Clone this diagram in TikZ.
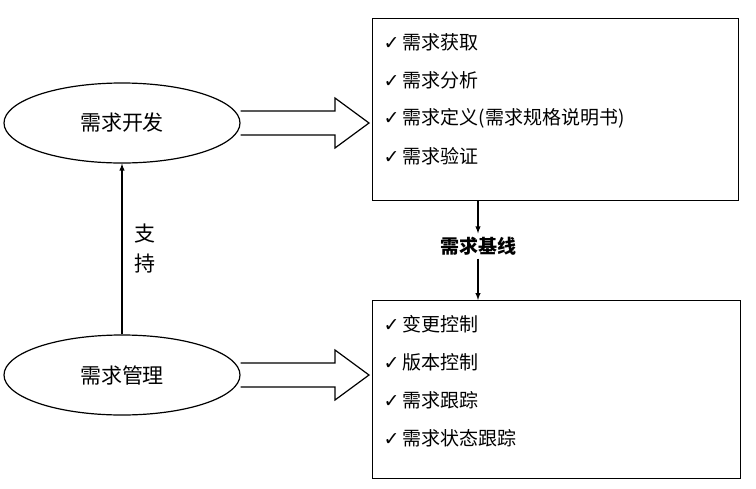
\documentclass[tikz,border=0pt]{standalone}
\usepackage{fontspec}
\usetikzlibrary{shapes.geometric}
\setmainfont{Noto Sans CJK SC}
\newfontfamily\djfont{DejaVu Sans}
\begin{document}
\begin{tikzpicture}[x=1pt,y=-1pt,
  ell/.style={draw,line width=1.2pt,ellipse,minimum width=236pt,minimum height=80pt,font=\fontsize{21}{24}\selectfont},
  lst/.style={draw,line width=1.2pt,anchor=north west,inner sep=0pt},
  itm/.style={anchor=west,font=\fontsize{19}{22}\selectfont},
  ar/.style={line width=1.4pt,-latex}]
\useasboundingbox (0,0) rectangle (756,488);
\node[ell] (dev) at (122,123) {需求开发};
\node[ell] (mgt) at (122,375) {需求管理};
\node[lst,minimum width=366pt,minimum height=182pt] (b1) at (372,18) {};
\node[lst,minimum width=368pt,minimum height=178pt] (b2) at (372,300) {};
\foreach \t [count=\i] in {需求获取,需求分析,需求定义(需求规格说明书),需求验证}
  \node[itm] (a\i) at (380,{4+\i*38}) {{\djfont ✓}\,\t};
\foreach \t [count=\i] in {变更控制,版本控制,需求跟踪,需求状态跟踪}
  \node[itm] (c\i) at (380,{286+\i*38}) {{\djfont ✓}\,\t};
\node[font=\bfseries\fontsize{19}{22}\selectfont] (base) at (478,246) {需求基线};
\draw[ar] (b1.south -| base) -- (base.north);
\draw[ar] (base.south) -- (b2.north -| base);
\draw[ar] (mgt.north) -- (dev.south) node[midway,right=8pt,align=center,font=\fontsize{21}{30}\selectfont] {支\\持};
\foreach \y/\n in {123/dev,375/mgt}
  \draw[line width=1.2pt] (\n.east |- 0,\y-12) -- (335,\y-12) -- (335,\y-25) -- (369,\y) -- (335,\y+25) -- (335,\y+12) -- (\n.east |- 0,\y+12);
\end{tikzpicture}
\end{document}
